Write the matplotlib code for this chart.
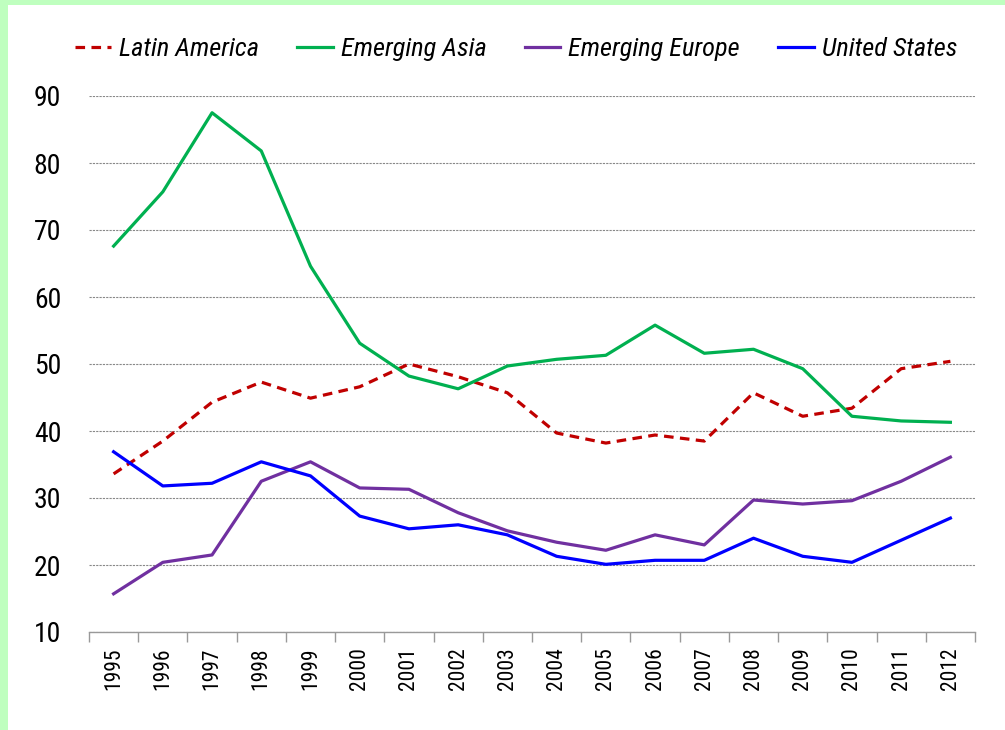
import numpy as np
import matplotlib
matplotlib.use('Agg')
import matplotlib.pyplot as plt
from matplotlib import font_manager
from matplotlib.patches import Rectangle

# pick a condensed family, the reference uses a narrow sans
names = {f.name for f in font_manager.fontManager.ttflist}
for cand in ['Roboto Condensed', 'Arial Narrow', 'Liberation Sans Narrow',
             'Archivo Narrow', 'Barlow Semi Condensed', 'Asap Condensed', 'Barlow Condensed']:
    if cand in names:
        narrow = cand
        break
else:
    narrow = 'Liberation Sans'
plt.rcParams['font.family'] = [narrow, 'DejaVu Sans']

# Data
years = [str(y) for y in range(1995, 2013)]
latin_america = [33.6, 38.5, 44.3, 47.3, 44.9, 46.6, 50.0, 48.1, 45.7, 39.7,
                 38.2, 39.4, 38.5, 45.7, 42.2, 43.4, 49.3, 50.4]
emerging_asia = [67.6, 75.7, 87.5, 81.8, 64.6, 53.1, 48.2, 46.3, 49.7, 50.7,
                 51.3, 55.8, 51.6, 52.2, 49.3, 42.2, 41.5, 41.3]
emerging_europe = [15.7, 20.4, 21.5, 32.5, 35.4, 31.5, 31.3, 27.8, 25.1, 23.4,
                   22.2, 24.5, 23.0, 29.7, 29.1, 29.6, 32.5, 36.1]
united_states = [36.9, 31.8, 32.2, 35.4, 33.3, 27.3, 25.4, 26.0, 24.5, 21.3,
                 20.1, 20.7, 20.7, 24.0, 21.3, 20.4, 23.7, 27.0]
y_ticks = [10, 20, 30, 40, 50, 60, 70, 80, 90]

fig = plt.figure(figsize=(10.05, 7.30), dpi=100)
fig.patch.set_facecolor('white')
# light green frame on left and top
fig.patches.append(Rectangle((0, 0), 8 / 1005, 1, transform=fig.transFigure,
                             facecolor='#BFFFBF', edgecolor='none', zorder=-1))
fig.patches.append(Rectangle((0, 1 - 5 / 730), 1, 5 / 730, transform=fig.transFigure,
                             facecolor='#BFFFBF', edgecolor='none', zorder=-1))

ax = fig.add_axes([89 / 1005, 1 - 632 / 730, (975 - 89) / 1005, (632 - 96) / 730])
ax.set_facecolor('none')

x = np.arange(len(years))
lw = 2.3
ax.plot(x, latin_america, color='#C00000', lw=lw, linestyle=(0, (3, 2)), label='Latin America')
ax.plot(x, emerging_asia, color='#00B050', lw=lw, label='Emerging Asia')
ax.plot(x, emerging_europe, color='#7030A0', lw=lw, label='Emerging Europe')
ax.plot(x, united_states, color='#0000FF', lw=lw, label='United States')

ax.set_xlim(-0.5, len(years) - 0.5)
ax.set_ylim(10, 90)

# category axis: tick marks on boundaries, labels at centres
ax.set_xticks(np.arange(-0.5, len(years), 1.0))
ax.set_xticklabels([])
ax.set_xticks(x, minor=True)
ax.set_xticklabels(years, minor=True, rotation=90, fontsize=15.5)
ax.tick_params(axis='x', which='major', direction='out', length=7, color='#999999', width=1)
ax.tick_params(axis='x', which='minor', length=0, pad=11)

ax.set_yticks(y_ticks)
ax.set_yticklabels([str(v) for v in y_ticks], fontsize=20)
ax.tick_params(axis='y', length=0, pad=20)

ax.grid(axis='y', color='#888888', linestyle=(0, (2, 1)), linewidth=0.8)
for s in ['top', 'right', 'left']:
    ax.spines[s].set_visible(False)
ax.spines['bottom'].set_color('#999999')
ax.spines['bottom'].set_linewidth(1)

leg = ax.legend(loc='lower center', bbox_to_anchor=(0.482, 1.045), ncol=4, frameon=False,
                handlelength=1.35, columnspacing=1.45, handletextpad=0.3,
                borderaxespad=0, prop={'style': 'italic', 'size': 19})

fig.savefig('out.png', dpi=100)
